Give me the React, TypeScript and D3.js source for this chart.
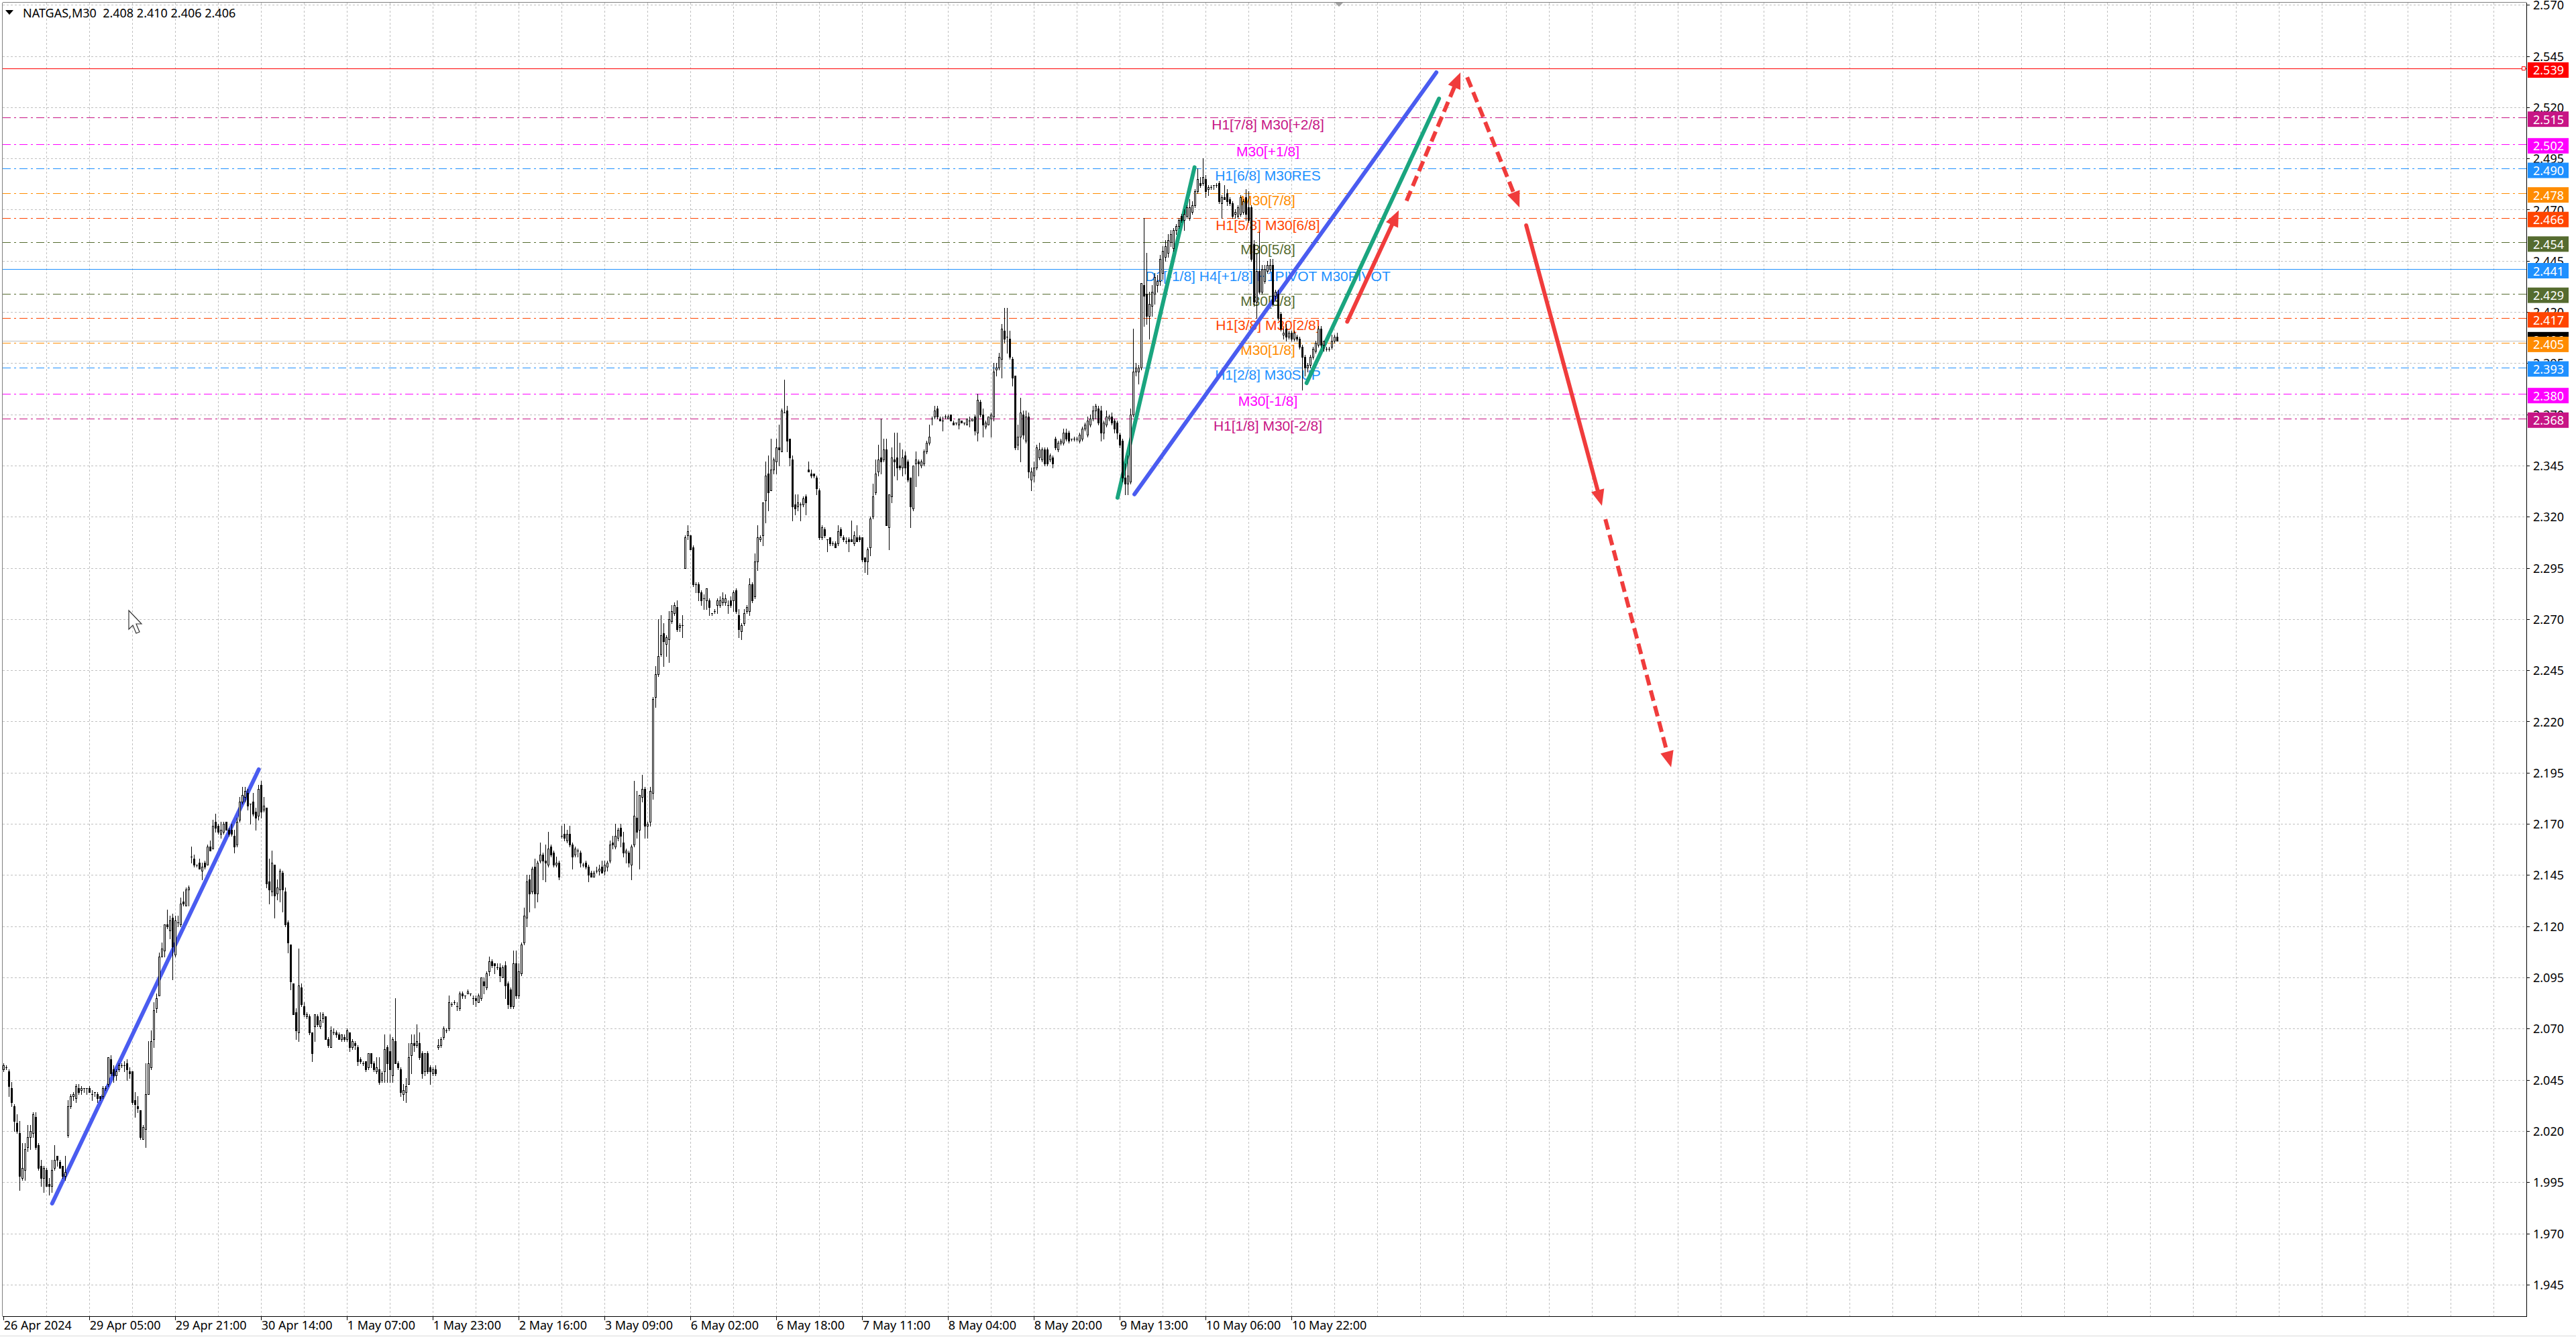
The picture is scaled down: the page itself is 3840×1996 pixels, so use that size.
import React, { useEffect } from "react";
import * as d3 from "d3";

const W = 3840;
const H = 1996;

const titleText = "NATGAS,M30  2.408 2.410 2.406 2.406";

// [open, high, low, close] in thousandths
const candles: number[][] = [
[2050,2053,2049,2052],[2051,2052,2050,2051],[2049,2050,2037,2042],[2041,2044,2032,2034],[2032,2033,2020,2025],
[2024,2028,2019,2020],[2019,2025,1991,1998],[1997,2014,1996,2002],[2001,2014,1996,2011],[2012,2023,2010,2017],
[2017,2023,2011,2020],[2019,2029,2017,2028],[2027,2029,2011,2012],[2013,2014,2001,2002],[2003,2006,1993,1997],
[1997,2003,1990,2002],[2001,2002,1993,1993],[1994,1997,1989,1993],[1993,2006,1990,2001],[2002,2013,2001,2006],
[2008,2008,2003,2006],[2005,2006,2002,2002],[2003,2003,1997,1998],[1998,2008,1996,2000],[2018,2035,2017,2032],
[2032,2038,2031,2037],[2037,2039,2035,2038],[2036,2043,2034,2042],[2041,2043,2038,2039],[2040,2042,2038,2041],
[2041,2041,2039,2041],[2041,2041,2038,2041],[2041,2042,2039,2039],[2038,2040,2035,2038],[2039,2039,2037,2039],
[2038,2039,2034,2036],[2037,2037,2035,2036],[2037,2042,2036,2041],[2041,2042,2040,2041],[2043,2056,2042,2056],
[2055,2057,2047,2048],[2050,2052,2044,2047],[2047,2050,2045,2049],[2050,2053,2049,2052],[2052,2053,2051,2052],
[2052,2054,2049,2052],[2053,2055,2045,2050],[2049,2051,2046,2048],[2049,2049,2033,2034],[2035,2039,2027,2033],
[2032,2037,2029,2031],[2030,2030,2016,2017],[2016,2023,2016,2022],[2021,2053,2012,2038],[2038,2064,2038,2053],
[2051,2069,2050,2064],[2065,2083,2061,2079],[2080,2087,2078,2085],[2086,2107,2086,2105],[2105,2112,2105,2109],
[2108,2121,2105,2121],[2121,2128,2119,2120],[2118,2125,2114,2123],[2124,2126,2094,2110],[2106,2125,2105,2123],
[2122,2125,2120,2122],[2121,2134,2120,2131],[2132,2137,2130,2131],[2130,2139,2130,2138],[2138,2140,2130,2139],
[2154,2159,2151,2154],[2153,2155,2149,2150],[2150,2150,2149,2150],[2151,2153,2148,2148],[2147,2151,2143,2149],
[2151,2152,2148,2149],[2150,2160,2150,2159],[2159,2162,2157,2157],[2158,2172,2158,2169],[2171,2175,2166,2168],
[2169,2170,2165,2166],[2165,2171,2163,2167],[2166,2171,2165,2170],[2171,2171,2167,2167],[2167,2168,2164,2165],
[2167,2170,2164,2165],[2164,2167,2156,2159],[2160,2173,2159,2171],[2172,2183,2171,2181],[2181,2188,2180,2184],
[2183,2188,2181,2186],[2185,2187,2177,2179],[2180,2180,2170,2180],[2181,2185,2174,2175],[2176,2178,2167,2173],
[2174,2189,2172,2187],[2189,2191,2173,2176],[2177,2183,2176,2179],[2178,2178,2139,2141],[2142,2153,2131,2138],
[2137,2157,2135,2151],[2150,2150,2124,2135],[2136,2143,2133,2139],[2138,2148,2132,2147],[2146,2147,2127,2138],
[2137,2139,2120,2121],[2122,2123,2107,2112],[2111,2111,2089,2093],[2092,2092,2077,2077],[2078,2080,2065,2069],
[2068,2109,2064,2091],[2090,2092,2081,2082],[2081,2083,2076,2077],[2076,2078,2075,2077],[2076,2077,2067,2068],
[2068,2068,2054,2058],[2071,2077,2064,2077],[2076,2077,2071,2072],[2071,2078,2070,2074],[2075,2078,2073,2077],
[2076,2076,2065,2065],[2065,2066,2061,2062],[2061,2071,2061,2069],[2068,2070,2067,2068],[2068,2069,2066,2067],
[2067,2068,2065,2065],[2065,2067,2064,2067],[2066,2067,2064,2065],[2065,2070,2064,2069],[2068,2068,2059,2061],
[2061,2065,2060,2064],[2063,2064,2060,2062],[2061,2062,2052,2054],[2055,2056,2053,2054],[2053,2054,2052,2053],
[2054,2054,2049,2050],[2051,2058,2050,2058],[2058,2058,2051,2053],[2053,2054,2049,2050],[2049,2056,2048,2051],
[2050,2056,2043,2044],[2045,2049,2044,2048],[2049,2067,2044,2060],[2061,2062,2044,2053],[2059,2067,2044,2050],
[2047,2066,2044,2065],[2064,2085,2053,2053],[2053,2054,2050,2051],[2050,2051,2037,2039],[2038,2043,2035,2040],
[2039,2046,2034,2042],[2043,2063,2043,2056],[2057,2067,2048,2063],[2063,2067,2059,2062],[2062,2072,2061,2064],
[2063,2068,2055,2056],[2058,2059,2046,2048],[2049,2058,2047,2058],[2058,2059,2048,2049],[2051,2052,2043,2049],
[2048,2051,2047,2050],[2050,2052,2047,2048],[2061,2065,2060,2062],[2062,2066,2061,2065],[2066,2071,2065,2070],
[2069,2070,2068,2069],[2070,2086,2069,2083],[2082,2083,2081,2082],[2083,2084,2082,2083],[2081,2083,2079,2081],
[2080,2088,2079,2087],[2087,2088,2085,2086],[2086,2086,2085,2086],[2087,2089,2087,2088],[2087,2087,2086,2087],
[2085,2086,2082,2085],[2085,2086,2081,2084],[2083,2087,2083,2086],[2085,2095,2084,2095],[2093,2095,2087,2091],
[2090,2098,2089,2097],[2098,2105,2096,2103],[2103,2104,2100,2101],[2102,2102,2097,2101],[2100,2102,2099,2100],
[2100,2102,2093,2096],[2095,2101,2095,2100],[2101,2103,2085,2091],[2092,2093,2080,2082],[2089,2090,2080,2081],
[2081,2108,2080,2102],[2102,2108,2085,2086],[2086,2102,2085,2098],[2097,2112,2096,2111],[2112,2129,2111,2125],
[2124,2145,2120,2142],[2143,2145,2127,2136],[2137,2149,2136,2148],[2149,2153,2129,2136],[2136,2152,2132,2151],
[2152,2161,2151,2155],[2155,2156,2143,2152],[2152,2160,2142,2151],[2150,2166,2149,2158],[2159,2160,2154,2155],
[2156,2157,2149,2150],[2150,2154,2149,2151],[2151,2152,2143,2144],[2164,2169,2163,2164],[2165,2170,2162,2163],
[2162,2167,2161,2165],[2165,2169,2159,2160],[2160,2161,2148,2154],[2155,2159,2154,2158],[2157,2158,2154,2157],
[2156,2157,2149,2151],[2150,2151,2149,2150],[2151,2152,2148,2149],[2149,2150,2142,2145],[2146,2147,2144,2144],
[2144,2147,2144,2146],[2147,2149,2146,2147],[2147,2150,2145,2148],[2149,2152,2146,2146],[2147,2152,2145,2150],
[2149,2152,2147,2151],[2152,2162,2151,2160],[2161,2164,2158,2160],[2159,2170,2158,2164],[2163,2168,2162,2167],
[2168,2170,2159,2164],[2161,2166,2154,2156],[2156,2158,2151,2157],[2156,2157,2149,2151],[2150,2160,2143,2159],
[2160,2191,2159,2174],[2173,2186,2163,2166],[2167,2184,2148,2184],[2183,2194,2181,2187],[2187,2188,2163,2169],
[2169,2171,2163,2170],[2171,2188,2169,2186],[2185,2232,2182,2231],[2232,2247,2227,2243],[2243,2270,2242,2252],
[2253,2272,2252,2262],[2263,2268,2247,2259],[2258,2262,2252,2261],[2260,2274,2249,2270],[2269,2277,2268,2274],
[2273,2278,2272,2277],[2276,2279,2264,2265],[2266,2268,2264,2267],[2267,2272,2261,2267],[2295,2311,2295,2310],
[2311,2316,2309,2313],[2311,2311,2304,2304],[2305,2306,2286,2287],[2287,2288,2283,2287],[2287,2288,2279,2283],
[2283,2284,2277,2279],[2280,2282,2275,2280],[2279,2285,2275,2285],[2279,2280,2272,2276],[2273,2273,2272,2273],
[2274,2275,2273,2274],[2277,2280,2273,2279],[2277,2281,2276,2279],[2278,2283,2277,2280],[2278,2282,2277,2280],
[2277,2279,2273,2277],[2279,2281,2276,2277],[2279,2284,2274,2283],[2284,2285,2273,2274],[2272,2275,2261,2265],
[2264,2268,2260,2267],[2268,2275,2267,2273],[2274,2277,2273,2276],[2274,2290,2272,2287],[2287,2288,2278,2279],
[2281,2302,2280,2298],[2298,2316,2294,2310],[2309,2311,2308,2310],[2311,2327,2306,2327],[2328,2347,2317,2340],
[2341,2350,2323,2332],[2333,2358,2333,2343],[2343,2349,2341,2348],[2347,2358,2341,2354],[2354,2365,2345,2353],
[2352,2373,2352,2372],[2371,2387,2371,2371],[2372,2374,2352,2357],[2358,2358,2345,2349],[2348,2350,2318,2325],
[2326,2331,2321,2324],[2325,2331,2323,2327],[2326,2327,2318,2326],[2326,2330,2325,2329],[2330,2331,2321,2327],
[2343,2347,2342,2342],[2341,2343,2339,2340],[2341,2341,2339,2340],[2339,2340,2331,2334],[2333,2334,2309,2310],
[2310,2316,2309,2315],[2314,2315,2310,2311],[2309,2309,2303,2309],[2310,2310,2306,2307],[2307,2308,2306,2307],
[2307,2308,2305,2305],[2307,2316,2306,2313],[2314,2315,2310,2311],[2310,2311,2308,2309],[2308,2310,2307,2308],
[2309,2310,2303,2308],[2309,2318,2308,2308],[2307,2313,2306,2311],[2310,2316,2308,2308],[2310,2311,2308,2309],
[2310,2310,2298,2299],[2300,2300,2293,2298],[2298,2305,2292,2304],[2305,2320,2301,2319],[2320,2336,2319,2330],
[2332,2348,2331,2341],[2342,2355,2340,2348],[2349,2368,2341,2347],[2348,2358,2347,2353],[2353,2358,2316,2316],
[2315,2331,2304,2331],[2330,2354,2327,2349],[2348,2361,2340,2347],[2349,2361,2338,2344],[2345,2356,2343,2344],
[2344,2353,2340,2349],[2350,2352,2341,2344],[2347,2348,2337,2338],[2339,2339,2315,2325],[2324,2345,2323,2345],
[2346,2352,2335,2348],[2347,2348,2340,2346],[2345,2348,2344,2347],[2346,2353,2345,2352],[2352,2357,2351,2356],
[2356,2365,2355,2359],[2368,2369,2365,2368],[2369,2374,2368,2372],[2373,2374,2368,2369],[2368,2369,2367,2367],
[2367,2369,2362,2367],[2369,2370,2368,2369],[2368,2370,2368,2369],[2370,2370,2367,2367],[2366,2367,2365,2365],
[2366,2366,2365,2366],[2365,2368,2363,2368],[2367,2367,2366,2366],[2366,2366,2365,2366],[2365,2368,2365,2368],
[2367,2369,2364,2367],[2367,2368,2367,2368],[2369,2370,2360,2362],[2361,2380,2357,2377],[2376,2377,2369,2370],
[2370,2373,2359,2365],[2364,2367,2363,2366],[2365,2369,2365,2369],[2368,2371,2359,2370],[2369,2395,2367,2391],
[2392,2395,2389,2393],[2393,2400,2392,2398],[2397,2414,2388,2412],[2411,2422,2405,2407],[2408,2422,2400,2408],
[2407,2411,2397,2398],[2397,2398,2384,2388],[2389,2389,2353,2354],[2355,2365,2353,2359],[2359,2378,2347,2371],
[2370,2372,2358,2360],[2357,2372,2356,2369],[2369,2371,2339,2342],[2338,2344,2333,2342],[2340,2347,2337,2344],
[2344,2355,2343,2354],[2349,2356,2348,2353],[2348,2354,2347,2353],[2353,2354,2345,2346],[2353,2354,2345,2346],
[2348,2351,2347,2350],[2349,2350,2344,2346],[2358,2359,2353,2354],[2353,2357,2352,2356],[2356,2358,2355,2357],
[2356,2363,2355,2361],[2361,2363,2357,2358],[2361,2362,2356,2357],[2358,2358,2357,2358],[2358,2359,2357,2358],
[2358,2359,2357,2358],[2357,2361,2356,2360],[2358,2364,2357,2363],[2363,2366,2362,2365],[2360,2369,2359,2367],
[2365,2370,2364,2368],[2368,2374,2367,2372],[2372,2375,2368,2374],[2373,2374,2365,2366],[2372,2374,2357,2361],
[2361,2367,2358,2366],[2365,2372,2364,2369],[2368,2370,2367,2369],[2369,2371,2365,2366],[2367,2368,2361,2363],
[2366,2367,2358,2361],[2360,2361,2354,2355],[2357,2358,2337,2339],[2339,2346,2331,2336],[2336,2350,2331,2340],
[2337,2373,2336,2370],[2370,2412,2369,2391],[2391,2395,2389,2393],[2391,2394,2385,2393],[2393,2434,2392,2434],
[2433,2466,2413,2428],[2429,2449,2414,2418],[2418,2430,2407,2424],[2423,2433,2418,2430],[2429,2439,2424,2437],
[2433,2438,2430,2435],[2435,2448,2433,2446],[2439,2452,2436,2450],[2447,2455,2445,2452],[2449,2458,2447,2455],
[2454,2460,2452,2458],[2451,2461,2450,2460],[2460,2463,2458,2462],[2462,2466,2461,2465],[2467,2468,2464,2465],
[2465,2470,2460,2468],[2467,2472,2466,2471],[2466,2475,2465,2471],[2469,2474,2468,2472],[2472,2480,2471,2479],
[2479,2490,2478,2485],[2483,2486,2481,2482],[2483,2495,2482,2486],[2485,2487,2476,2479],[2480,2482,2477,2481],
[2481,2482,2480,2481],[2482,2482,2480,2482],[2482,2483,2481,2482],[2483,2484,2473,2474],[2473,2477,2466,2476],
[2476,2482,2475,2475],[2478,2480,2472,2474],[2475,2476,2472,2473],[2473,2474,2466,2467],[2468,2470,2466,2469],
[2467,2472,2466,2471],[2468,2477,2467,2476],[2469,2475,2468,2474],[2476,2480,2465,2468],[2471,2479,2464,2465],
[2471,2472,2445,2446],[2453,2455,2423,2425],[2425,2449,2417,2440],[2440,2459,2429,2430],[2430,2443,2429,2441],
[2435,2443,2434,2441],[2440,2445,2439,2443],[2441,2446,2440,2443],[2443,2446,2423,2424],[2428,2431,2426,2430],
[2429,2431,2416,2417],[2419,2420,2411,2412],[2409,2412,2407,2410],[2412,2414,2406,2408],[2408,2411,2407,2410],
[2410,2411,2406,2407],[2407,2411,2406,2410],[2408,2409,2406,2407],[2407,2408,2402,2403],[2403,2404,2382,2398],
[2398,2399,2389,2393],[2393,2395,2391,2394],[2394,2399,2393,2398],[2398,2403,2397,2402],[2401,2406,2400,2405],
[2404,2413,2403,2412],[2412,2413,2403,2404],[2404,2406,2401,2406],[2402,2403,2401,2402],[2402,2403,2401,2402],
[2403,2409,2402,2406],[2406,2409,2405,2408],[2408,2410,2406,2406]
];

const priceTickLabels = ["2.570","2.545","2.520","2.495","2.470","2.445","2.420","2.395","2.370","2.345","2.320","2.295","2.270","2.245","2.220","2.195","2.170","2.145","2.120","2.095","2.070","2.045","2.020","1.995","1.970","1.945"];

const timeLabels = ["26 Apr 2024","29 Apr 05:00","29 Apr 21:00","30 Apr 14:00","1 May 07:00","1 May 23:00","2 May 16:00","3 May 09:00","6 May 02:00","6 May 18:00","7 May 11:00","8 May 04:00","8 May 20:00","9 May 13:00","10 May 06:00","10 May 22:00"];
const timeLabelBars = [0,32,64,96,128,160,192,224,256,288,320,352,384,416,448,480];

const levelPrices = [2.539,2.515,2.502,2.490,2.478,2.466,2.454,2.441,2.429,2.417,2.405,2.393,2.380,2.368];
const levelColors = ["#FF0000","#C71585","#FF00FF","#1E90FF","#FF8C00","#FF4500","#556B2F","#1E90FF","#556B2F","#FF4500","#FF8C00","#1E90FF","#FF00FF","#C71585"];
const levelNames = ["","H1[7/8] M30[+2/8]","M30[+1/8]","H1[6/8] M30RES","M30[7/8]","H1[5/8] M30[6/8]","M30[5/8]","D1[-1/8] H4[+1/8] H1PIVOT M30PIVOT","M30[3/8]","H1[3/8] M30[2/8]","M30[1/8]","H1[2/8] M30SUP","M30[-1/8]","H1[1/8] M30[-2/8]"];
const levelSolid = [true,false,false,false,false,false,false,true,false,false,false,false,false,false];
const bidPrice = 2.406;

// trend lines: [bar1, price1, bar2, price2]
const blueLines = [[18.25,1.9846,95.25,2.1966],[421.6,2.331,534.1,2.537]];
const greenLines = [[415.3,2.3293,444.0,2.4907],[485.75,2.3853,535.1,2.5242]];
// red arrows: [bar1, price1, bar2, price2, dashed]
const redArrows = [
  [500.9,2.4153,520.1,2.4697,0],
  [523.0,2.4743,543.1,2.5370,1],
  [545.6,2.5347,565.1,2.4711,1],
  [567.6,2.4623,595.8,2.3253,0],
  [597.1,2.3188,621.6,2.1976,1]
];

const AXIS_FONT = "'Noto Sans', 'DejaVu Sans', sans-serif";
const LABEL_FONT = "'Liberation Sans', Arial, sans-serif";

export default function App() {
  useEffect(() => {
    document.body.style.margin = "0";
  }, []);

  const plotL = 4, plotT = 4, plotR = 3766, plotB = 1962;
  const x = d3.scaleLinear().domain([0, 940]).range([4.7, 4.7 + 4 * 940]);
  const y = d3.scaleLinear().domain([1.945, 2.570]).range([1914.8, 7.3]);
  const px = (v: number) => Math.round(v) + 0.5;

  const vGrid = d3.range(1, 59).map((k) => k * 16);

  const arrowHead = (x1: number, y1: number, x2: number, y2: number) => {
    const ang = Math.atan2(y2 - y1, x2 - x1);
    const len = 24, hw = 10;
    const bx = x2 - len * Math.cos(ang), by = y2 - len * Math.sin(ang);
    const nx = -Math.sin(ang), ny = Math.cos(ang);
    return `${x2},${y2} ${bx + nx * hw},${by + ny * hw} ${bx - nx * hw},${by - ny * hw}`;
  };

  const line = d3.line<number[]>().x((d) => d[0]).y((d) => d[1]);

  return (
    <svg width={W} height={H} viewBox={`0 0 ${W} ${H}`} style={{ display: "block", position: "absolute", left: 0, top: 0, background: "#fff" }}>
      <rect x={0} y={0} width={W} height={H} fill="#ffffff" />
      {/* grid */}
      <g stroke="#C0C0C0" strokeWidth={1} strokeDasharray="3,3" shapeRendering="crispEdges">
        {priceTickLabels.map((t) => (
          <line key={"h" + t} x1={plotL} x2={plotR} y1={px(y(+t))} y2={px(y(+t))} />
        ))}
        {vGrid.map((b) => (
          <line key={"v" + b} x1={px(x(b))} x2={px(x(b))} y1={plotT} y2={plotB} />
        ))}
      </g>
      {/* level lines */}
      <g shapeRendering="crispEdges">
        {levelPrices.map((p, i) => (
          <line key={"l" + i} x1={plotL} x2={plotR} y1={px(y(p))} y2={px(y(p))} stroke={levelColors[i]} strokeWidth={1}
            strokeDasharray={levelSolid[i] ? undefined : "12,5,3,5"} />
        ))}
        <line x1={plotL} x2={plotR} y1={px(y(bidPrice))} y2={px(y(bidPrice))} stroke="#C0C0C0" strokeWidth={1} />
        <rect x={3759.5} y={px(y(levelPrices[0])) - 3} width={5} height={5} fill="#fff" stroke="#FF0000" strokeWidth={1} />
      </g>
      {/* level labels */}
      <g fontFamily={LABEL_FONT} fontSize={21} textAnchor="middle">
        {levelPrices.map((p, i) => levelNames[i] ? (
          <text key={"t" + i} x={1890} y={y(p) + 18} fill={levelColors[i]}>{levelNames[i]}</text>
        ) : null)}
      </g>
      {/* trend lines */}
      <g strokeLinecap="round" fill="none">
        {blueLines.map((l, i) => (
          <path key={"b" + i} d={line([[x(l[0]), y(l[1])], [x(l[2]), y(l[3])]]) || ""} stroke="#4A5CF0" strokeWidth={6} />
        ))}
        {greenLines.map((l, i) => (
          <path key={"g" + i} d={line([[x(l[0]), y(l[1])], [x(l[2]), y(l[3])]]) || ""} stroke="#1AA57F" strokeWidth={6} />
        ))}
      </g>
      {/* red arrows */}
      <g>
        {redArrows.map((a, i) => {
          const x1 = x(a[0]), y1 = y(a[1]), x2 = x(a[2]), y2 = y(a[3]);
          const ang = Math.atan2(y2 - y1, x2 - x1);
          const ex = x2 - 18 * Math.cos(ang), ey = y2 - 18 * Math.sin(ang);
          return (
            <g key={"r" + i}>
              <path d={line([[x1, y1], [ex, ey]]) || ""} stroke="#F03C3C" strokeWidth={6} fill="none"
                strokeLinecap={a[4] ? "butt" : "round"} strokeDasharray={a[4] ? "16,8" : undefined} />
              <polygon points={arrowHead(x1, y1, x2, y2)} fill="#F03C3C" />
            </g>
          );
        })}
      </g>
      {/* candles */}
      <g shapeRendering="crispEdges">
        {candles.map((c, j) => {
          const [o, h, l, cl] = c.map((v) => v / 1000);
          const cx = px(x(j));
          const top = Math.round(y(Math.max(o, cl)));
          const bot = Math.round(y(Math.min(o, cl)));
          const bull = cl > o;
          return (
            <g key={"c" + j}>
              <line x1={cx} x2={cx} y1={Math.round(y(h))} y2={Math.round(y(l)) + 1} stroke="#000" strokeWidth={1} />
              {bull ? (
                <rect x={cx - 1} y={top + 0.5} width={2} height={Math.max(1, bot - top)} fill="#fff" stroke="#000" strokeWidth={1} />
              ) : (
                <rect x={cx - 1.5} y={top} width={3} height={Math.max(1, bot - top + 1)} fill="#000" />
              )}
            </g>
          );
        })}
      </g>
      {/* frame & axes */}
      <g shapeRendering="crispEdges">
        <line x1={plotL - 0.5} x2={plotL - 0.5} y1={plotT} y2={plotB} stroke="#808080" strokeWidth={1} />
        <line x1={plotL} x2={plotR} y1={plotT - 0.5} y2={plotT - 0.5} stroke="#808080" strokeWidth={1} />
        <line x1={plotR + 0.5} x2={plotR + 0.5} y1={plotT} y2={plotB + 1} stroke="#000" strokeWidth={1} />
        <line x1={plotL} x2={plotR + 1} y1={plotB + 0.5} y2={plotB + 0.5} stroke="#000" strokeWidth={1} />
        <line x1={0} x2={W} y1={1991.5} y2={1991.5} stroke="#DADADA" strokeWidth={1} />
      </g>
      {/* price axis labels */}
      <g fontFamily={AXIS_FONT} fontSize={18} fill="#000">
        {priceTickLabels.map((t) => (
          <g key={"p" + t}>
            <line x1={plotR + 1} x2={plotR + 5} y1={px(y(+t))} y2={px(y(+t))} stroke="#000" shapeRendering="crispEdges" />
            <text x={3776} y={y(+t)} dominantBaseline="central">{t}</text>
          </g>
        ))}
      </g>
      {/* time axis labels */}
      <g fontFamily={AXIS_FONT} fontSize={18} fill="#000">
        {timeLabels.map((t, i) => (
          <g key={"tl" + i}>
            <line x1={px(x(timeLabelBars[i]))} x2={px(x(timeLabelBars[i]))} y1={plotB + 1} y2={plotB + 6} stroke="#000" shapeRendering="crispEdges" />
            <text x={x(timeLabelBars[i]) + 1} y={1982}>{t}</text>
          </g>
        ))}
      </g>
      {/* price boxes */}
      <g fontFamily={AXIS_FONT} fontSize={18}>
        <rect x={3768} y={y(bidPrice) - 13} width={61} height={23} fill="#000" />
        <text x={3776} y={y(bidPrice) - 1} dominantBaseline="central" fill="#fff">{bidPrice.toFixed(3)}</text>
        {levelPrices.map((p, i) => (
          <g key={"bx" + i}>
            <rect x={3768} y={y(p) - 9} width={61} height={23} fill={levelColors[i]} />
            <text x={3776} y={y(p) + 2.5} dominantBaseline="central" fill="#fff">{p.toFixed(3)}</text>
          </g>
        ))}
      </g>
      {/* title */}
      <polygon points="8,15 20,15 14,22" fill="#000" />
      <text x={34} y={26} fontFamily={AXIS_FONT} fontSize={18} fill="#000" style={{ whiteSpace: "pre" }}>{titleText}</text>
      {/* chart shift marker */}
      <polygon points="1990,4 2002,4 1996,10" fill="#A0A0A0" />
      {/* mouse cursor */}
      <polygon points="192,910 192,938 198,932 203,944 208,942 203,930 211,930" fill="#fff" stroke="#333" strokeWidth={1.2} />
    </svg>
  );
}
